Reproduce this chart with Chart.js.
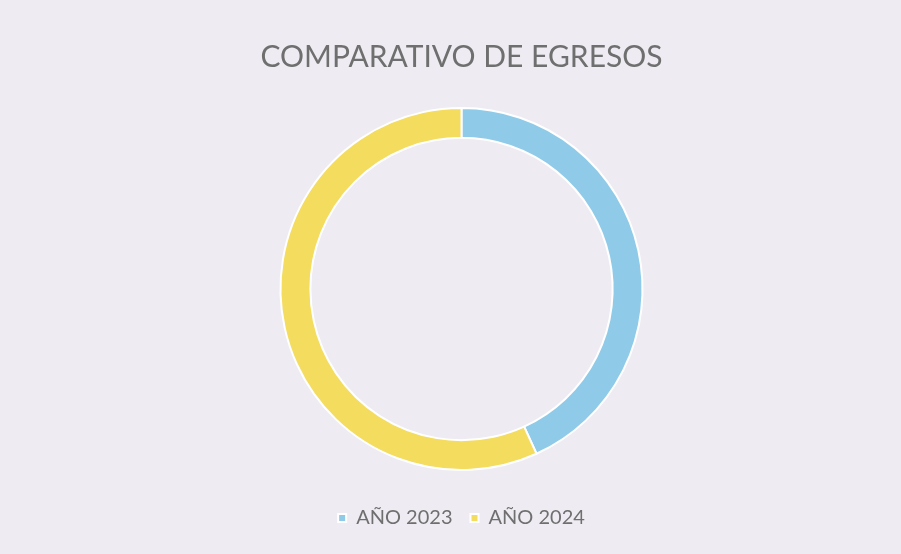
<!DOCTYPE html>
<html lang="es">
<head>
    <meta charset="UTF-8">
    <title>Comparativo de egresos</title>
    <style>
        body {
            margin: 0;
            background-color: #eeecf2;
        }
        .wrap {
            width: 901px;
            height: 554px;
        }
    </style>
</head>
<body>
<div class="wrap">
    <canvas id="chart"></canvas>
</div>
<script src="https://cdn.jsdelivr.net/npm/chart.js"></script>
<script>
    const labels = ['AÑO 2023', 'AÑO 2024'];
    const egresos = [43.2, 56.8];
    const colores = ['#8fcbe8', '#f3dc5e'];

    new Chart(document.getElementById('chart'), {
        type: 'doughnut',
        data: {
            labels: labels,
            datasets: [{
                data: egresos,
                backgroundColor: colores,
                borderColor: '#ffffff',
                borderWidth: 2
            }]
        },
        options: {
            responsive: true,
            maintainAspectRatio: false,
            animation: false,
            radius: 181,
            cutout: '83.5%',
            layout: {
                padding: { left: 22, right: 0, top: 0, bottom: 16 }
            },
            plugins: {
                title: {
                    display: true,
                    text: 'COMPARATIVO DE EGRESOS',
                    color: '#6f6f6f',
                    font: { family: 'Lato', size: 30, weight: 'normal' },
                    padding: { top: 39, bottom: 13 }
                },
                legend: {
                    position: 'bottom',
                    labels: {
                        color: '#6f6f6f',
                        font: { family: 'Lato', size: 20 },
                        usePointStyle: true,
                        pointStyle: 'rect',
                        boxWidth: 8,
                        boxHeight: 8,
                        padding: 18
                    }
                },
                tooltip: { enabled: false }
            }
        }
    });
</script>
</body>
</html>
